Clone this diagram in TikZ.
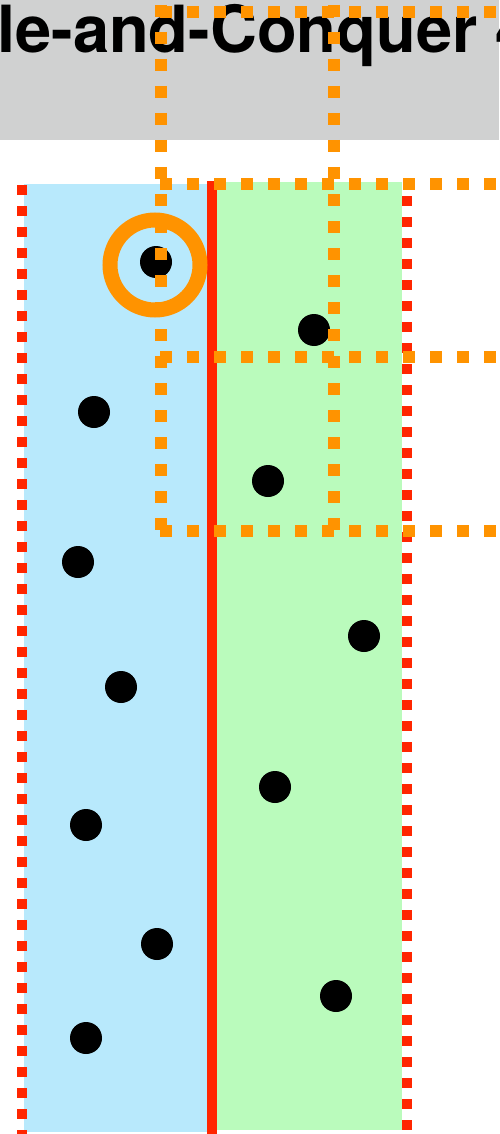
\documentclass[tikz,border=0pt]{standalone}
\usepackage{fontspec}
\setmainfont{TeX Gyre Heros}
\definecolor{dcHeader}{HTML}{D0D1D1}
\definecolor{dcLeft}{HTML}{B8E9FC}
\definecolor{dcRight}{HTML}{BAFBBC}
\definecolor{dcRed}{HTML}{FF2600}
\definecolor{dcOrange}{HTML}{FF9300}
\begin{document}
\begin{tikzpicture}[x=1pt, y=-1pt,
  pt/.style={circle, fill=black, inner sep=0pt, minimum size=32pt},
  reddot/.style={draw=dcRed, line width=10pt, dash pattern=on 10pt off 11pt},
  griddot/.style={draw=dcOrange, line width=12pt, dash pattern=on 12pt off 15pt}]
% Page frame
\useasboundingbox (0,0) rectangle (499,1134);
\clip (0,0) rectangle (499,1134);
% Header
\fill[dcHeader] (0,0) rectangle (499,140);
\node[anchor=base west, inner sep=0pt, font=\fontsize{65}{78}\selectfont\bfseries] (title) at (-3,53) {le-and-Conquer 4};
% Left and right halves
\fill[dcLeft] (24,184) rectangle (207,1132);
\fill[dcRight] (217,182) rectangle (402,1130);
% Dividing line and strip borders
\draw[dcRed, line width=10pt] (212,181) -- (212,1134);
\draw[reddot] (22,185) -- (22,1134);
\draw[reddot] (407,196) -- (407,1130);
% Points
\node[pt] (p1) at (156,262) {};
\node[pt] (p2) at (314,330) {};
\node[pt] (p3) at (94,412) {};
\node[pt] (p4) at (268,481) {};
\node[pt] (p5) at (78,562) {};
\node[pt] (p6) at (364,636) {};
\node[pt] (p7) at (121,687) {};
\node[pt] (p8) at (275,787) {};
\node[pt] (p9) at (86,825) {};
\node[pt] (p10) at (157,944) {};
\node[pt] (p11) at (336,996) {};
\node[pt] (p12) at (86,1038) {};
% Highlighted point
\draw[dcOrange, line width=15pt] (155,265) circle (45);
% Box grid
\begin{scope}[griddot]
  \draw (161,5) -- (161,533);
  \draw (334,5) -- (334,533);
  \draw (160,12) -- (510,12);
  \draw (160,184) -- (510,184);
  \draw (160,357) -- (510,357);
  \draw (160,531) -- (510,531);
\end{scope}
\end{tikzpicture}
\end{document}
